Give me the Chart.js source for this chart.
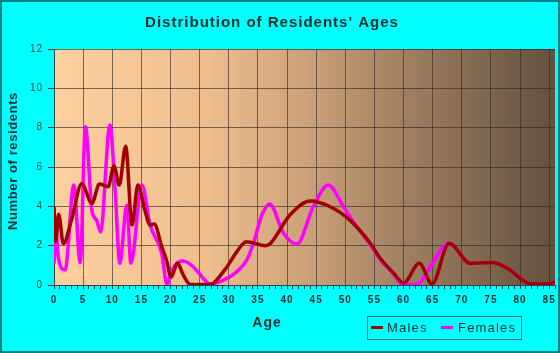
<!DOCTYPE html>
<html>
<head>
<meta charset="utf-8">
<script src="https://cdn.jsdelivr.net/npm/chart.js@4/dist/chart.umd.min.js"></script>
<style>
  html, body { margin: 0; padding: 0; background: #00FFFF; }
  canvas { display: block; }
</style>
</head>
<body>
<canvas id="c" width="560" height="353"></canvas>
<script>
// ---- Data ----
const chartTitle = "Distribution of Residents' Ages";
const xAxisTitle = "Age";
const yAxisTitle = "Number of residents";
const seriesNames = ["Males", "Females"];

const maleAges   = [0, 0.3, 0.8, 1.6, 3, 4.75, 6.5, 7.8, 9.3, 10.3, 11.2, 12.3, 13.4, 14.4, 15.6, 16.5, 17.2, 18.5, 19.3, 20.1, 21.2, 22.2, 23.4, 26.8, 27.4, 29.7, 31.4, 33, 36.3, 37.1, 40.5, 44, 47.4, 50.8, 54.3, 56, 58.3, 60, 62.7, 64.9, 67.8, 71.5, 75.3, 78.3, 80, 81.8, 84.5, 86];
const maleCounts = [4.0, 2.2, 3.6, 2.1, 3.3, 5.15, 4.15, 5.13, 5.0, 6.05, 5.08, 7.05, 3.05, 5.08, 3.8, 3.05, 3.1, 1.95, 1.27, 0.4, 1.1, 0.5, 0.03, 0.03, 0.1, 0.93, 1.7, 2.2, 2.0, 2.1, 3.56, 4.27, 3.98, 3.3, 2.12, 1.36, 0.6, 0.1, 1.1, 0.05, 2.12, 1.1, 1.15, 0.76, 0.34, 0.06, 0.05, 0.15];

const femaleAges   = [0, 0.35, 0.8, 1.9, 3.4, 4.5, 5.4, 6.5, 7.3, 8.0, 9.6, 10.5, 11.3, 12.5, 13.2, 15.1, 16.5, 18.5, 19.4, 20.3, 22.1, 23.9, 25.6, 26.8, 29.1, 31.4, 33.1, 34.2, 35.7, 37.0, 39.4, 41.7, 44.5, 47.1, 49.7, 51.4, 54.3, 56, 58.3, 59.7, 62.3, 64.6, 66.6, 67.7, 71.5, 75.3, 78.3, 80, 81.8, 84.5, 86];
const femaleCounts = [1.1, 2.6, 1.3, 0.76, 5.08, 1.13, 8.05, 3.8, 3.3, 2.7, 8.13, 4.8, 1.1, 4.07, 1.1, 5.08, 3.05, 1.6, 0.02, 0.8, 1.22, 0.93, 0.34, 0.05, 0.25, 0.68, 1.27, 2.1, 3.56, 4.12, 2.63, 2.08, 3.98, 5.08, 3.98, 3.2, 2.05, 1.3, 0.55, 0.05, 0.02, 0.93, 1.86, 2.12, 1.1, 1.15, 0.76, 0.34, 0.06, 0.05, 0.15];

const xTickLabels = [0, 5, 10, 15, 20, 25, 30, 35, 40, 45, 50, 55, 60, 65, 70, 75, 80, 85];
const yTickLabels = [0, 2, 4, 6, 8, 10, 12];

// ---- Styling ----
const FONT = '"Liberation Sans", Arial, sans-serif';
const textColor = '#0c2e2e';
const gridColor = 'rgba(45,40,35,0.62)';

function toPoints(xs, ys) { return xs.map((x, i) => ({ x: x, y: ys[i] })); }

const backgroundPlugin = {
  id: 'bg',
  beforeDraw(chart) {
    const ctx = chart.ctx;
    const a = chart.chartArea;
    ctx.save();
    ctx.fillStyle = '#00FFFF';
    ctx.fillRect(0, 0, chart.width, chart.height);
    const g = ctx.createLinearGradient(a.left, 0, a.right, 0);
    g.addColorStop(0.00, 'rgb(253,208,160)');
    g.addColorStop(0.30, 'rgb(240,190,142)');
    g.addColorStop(0.50, 'rgb(205,162,122)');
    g.addColorStop(0.70, 'rgb(160,128,98)');
    g.addColorStop(1.00, 'rgb(98,80,62)');
    ctx.fillStyle = g;
    ctx.fillRect(a.left, a.top, a.right - a.left, a.bottom - a.top);
    ctx.restore();
    ctx.letterSpacing = '1px';
  },
  afterDraw(chart) {
    const ctx = chart.ctx;
    ctx.save();
    // outer border
    ctx.strokeStyle = '#008080';
    ctx.lineWidth = 2;
    ctx.strokeRect(1, 1, chart.width - 2, chart.height - 2);
    ctx.fillStyle = textColor;
    ctx.textAlign = 'center';
    ctx.textBaseline = 'middle';
    // title
    ctx.letterSpacing = '1px';
    ctx.font = 'bold 15px ' + FONT;
    ctx.fillText(chartTitle, 272, 23);
    // x title
    ctx.font = 'bold 14px ' + FONT;
    ctx.fillText(xAxisTitle, 267, 323);
    // y title
    ctx.save();
    ctx.translate(13, 161);
    ctx.rotate(-Math.PI / 2);
    ctx.letterSpacing = '0.6px';
    ctx.font = 'bold 13px ' + FONT;
    ctx.fillText(yAxisTitle, 0, 0);
    ctx.restore();
    // legend
    ctx.strokeStyle = '#1f6a6a';
    ctx.lineWidth = 1;
    ctx.strokeRect(367.5, 316.5, 154, 23);
    const items = chart.data.datasets;
    const xs = [[371, 383, 387], [441, 453, 458]];
    ctx.textAlign = 'left';
    ctx.font = '13px ' + FONT;
    ctx.letterSpacing = '1.2px';
    items.forEach((ds, i) => {
      ctx.strokeStyle = ds.borderColor;
      ctx.lineWidth = 3;
      ctx.beginPath();
      ctx.moveTo(xs[i][0], 327.5);
      ctx.lineTo(xs[i][1], 327.5);
      ctx.stroke();
      ctx.fillStyle = textColor;
      ctx.fillText(ds.label, xs[i][2], 328);
    });
    ctx.restore();
  }
};

new Chart(document.getElementById('c'), {
  type: 'line',
  data: {
    datasets: [
      { label: seriesNames[0], data: toPoints(maleAges, maleCounts), borderColor: '#a00000', borderWidth: 3.5, pointRadius: 0, cubicInterpolationMode: 'monotone', fill: false },
      { label: seriesNames[1], data: toPoints(femaleAges, femaleCounts), borderColor: '#ff00ff', borderWidth: 3.5, pointRadius: 0, cubicInterpolationMode: 'monotone', fill: false }
    ]
  },
  options: {
    responsive: false,
    devicePixelRatio: 1,
    animation: false,
    events: [],
    layout: { padding: { left: 0, top: 49, right: 5, bottom: 0 } },
    plugins: { legend: { display: false }, title: { display: false }, tooltip: { enabled: false } },
    scales: {
      x: {
        type: 'linear', min: 0, max: 86,
        afterFit(s) { s.height = 68; },
        ticks: {
          stepSize: 1, autoSkip: false, maxRotation: 0, padding: 5,
          color: textColor, font: { size: 10, family: FONT, weight: 'bold' },
          callback: (v) => xTickLabels.includes(v) ? String(v) : ''
        },
        grid: {
          color: (c) => (c.tick && c.tick.value % 5 === 0 && c.tick.value !== 0) ? gridColor : 'rgba(0,0,0,0)',
          tickColor: '#2a3a3a', tickLength: 4, drawOnChartArea: true
        },
        border: { display: true, color: '#2a4a4a', width: 1 }
      },
      y: {
        min: 0, max: 12,
        afterFit(s) { s.width = 54; },
        ticks: {
          stepSize: 2, padding: 5, color: '#304848', font: { size: 10, family: FONT },
          callback: (v) => yTickLabels.includes(v) ? String(v) : ''
        },
        grid: {
          color: (c) => (c.tick && c.tick.value !== 0) ? gridColor : 'rgba(0,0,0,0)',
          tickColor: '#2a3a3a', tickLength: 6
        },
        border: { display: true, color: '#2a4a4a', width: 1 }
      }
    }
  },
  plugins: [backgroundPlugin]
});
</script>
</body>
</html>
